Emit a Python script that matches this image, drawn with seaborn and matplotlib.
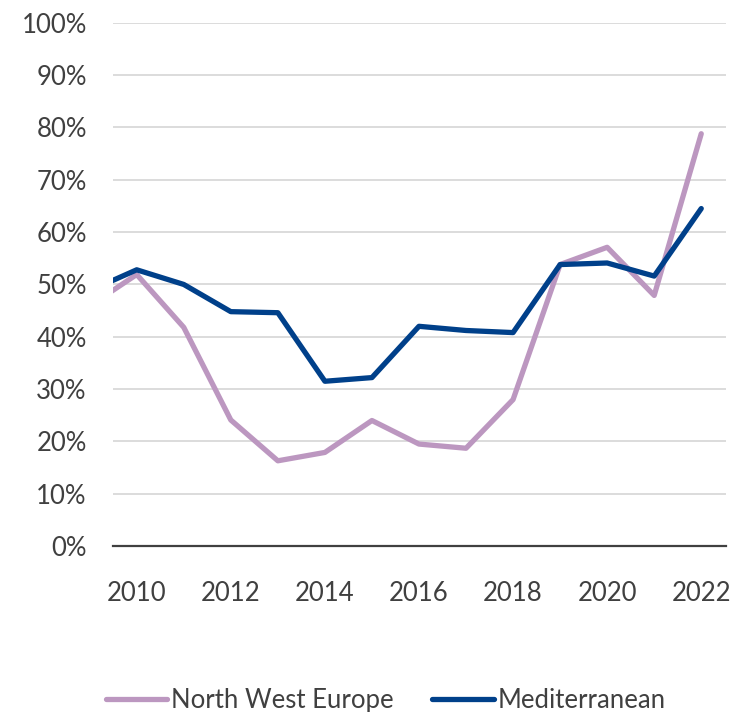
import matplotlib
matplotlib.use("Agg")
import matplotlib.pyplot as plt
from matplotlib.ticker import PercentFormatter
import seaborn as sns
import pandas as pd

# ─── Data (share, %) ─────────────────────────────────────────────────────────
years = [2009, 2010, 2011, 2012, 2013, 2014, 2015, 2016, 2017, 2018, 2019, 2020, 2021, 2022]
north_west_europe = [45.9, 51.9, 41.8, 24.1, 16.3, 17.9, 24.0, 19.5, 18.7, 28.0, 53.8, 57.1, 47.9, 78.8]
mediterranean = [48.8, 52.8, 50.0, 44.8, 44.6, 31.5, 32.2, 42.0, 41.2, 40.8, 53.8, 54.1, 51.6, 64.5]

series_names = ["North West Europe", "Mediterranean"]
palette = {"North West Europe": "#BC97C0", "Mediterranean": "#00408A"}

df = pd.DataFrame({
    "year": years * 2,
    "share": north_west_europe + mediterranean,
    "region": [series_names[0]] * len(years) + [series_names[1]] * len(years),
})

sns.set_theme(style="white")
plt.rcParams["font.family"] = ["Lato", "DejaVu Sans"]
text_col = "#404040"

fig = plt.figure(figsize=(7.35, 7.12), dpi=100)
ax = fig.add_axes([0.154, 0.233, 0.834, 0.735])

sns.lineplot(data=df, x="year", y="share", hue="region", hue_order=series_names,
             palette=palette, linewidth=3.8, ax=ax, legend=False)
for line in ax.get_lines():
    line.set_solid_joinstyle("round")
    line.set_solid_capstyle("round")

ax.set_xlim(2009.5, 2022.53)
ax.set_ylim(0, 100)
ax.set_yticks(range(0, 101, 10))
ax.set_xticks(range(2010, 2023, 2))
ax.yaxis.set_major_formatter(PercentFormatter(decimals=0))
ax.grid(axis="y", color="#D9D9D9", linewidth=1.3)
ax.grid(axis="x", visible=False)
ax.set_axisbelow(True)
ax.set_xlabel("")
ax.set_ylabel("")

for s in ["top", "right", "left"]:
    ax.spines[s].set_visible(False)
ax.spines["bottom"].set_color(text_col)
ax.spines["bottom"].set_linewidth(1.6)
ax.spines["bottom"].set_zorder(5)

ax.tick_params(axis="y", length=0, pad=19, labelsize=18.5, labelcolor=text_col)
ax.tick_params(axis="x", length=0, pad=25, labelsize=18.5, labelcolor=text_col)

handles = [plt.Line2D([], [], color=palette[n], linewidth=3.8, solid_capstyle="round")
           for n in series_names]
fig.legend(handles, series_names, loc="lower center", bbox_to_anchor=(0.525, -0.034),
           ncol=2, frameon=False, fontsize=18.5, labelcolor=text_col,
           handlelength=2.4, handletextpad=0.15, columnspacing=1.5)

fig.savefig("out.png", dpi=100)
plt.close(fig)
